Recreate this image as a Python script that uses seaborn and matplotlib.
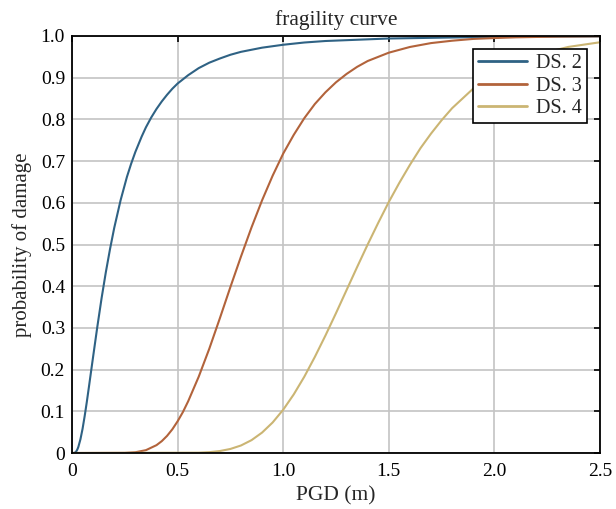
import matplotlib
matplotlib.use("Agg")
import matplotlib.pyplot as plt
import seaborn as sns
import pandas as pd

# ---- data ----
ds2_pgd = [0.0, 0.005, 0.01, 0.015, 0.02, 0.025, 0.03, 0.04, 0.05, 0.06, 0.07, 0.08, 0.09,
           0.10, 0.12, 0.14, 0.16, 0.18, 0.20, 0.23, 0.26, 0.28, 0.30, 0.33, 0.35, 0.375,
           0.40, 0.425, 0.45, 0.475, 0.50, 0.55, 0.60, 0.65, 0.70, 0.75, 0.80, 0.90, 1.0,
           1.1, 1.2, 1.5, 2.0, 2.5]
ds2_prob = [0.0, 0.0, 0.0002, 0.0013, 0.0037, 0.0081, 0.0144, 0.033, 0.058, 0.0885, 0.122,
            0.158, 0.1946, 0.231, 0.303, 0.371, 0.433, 0.489, 0.540, 0.606, 0.662, 0.6936,
            0.722, 0.759, 0.781, 0.8045, 0.825, 0.843, 0.859, 0.8735, 0.886, 0.906, 0.923,
            0.936, 0.946, 0.955, 0.962, 0.972, 0.979, 0.9844, 0.988, 0.994, 0.998, 0.999]

ds3_pgd = [0.0, 0.25, 0.30, 0.35, 0.40, 0.425, 0.45, 0.475, 0.50, 0.525, 0.55, 0.60, 0.65,
           0.70, 0.75, 0.80, 0.85, 0.90, 0.95, 1.00, 1.05, 1.10, 1.15, 1.20, 1.25, 1.30,
           1.35, 1.40, 1.50, 1.60, 1.70, 1.80, 1.90, 2.00, 2.10, 2.30, 2.50]
ds3_prob = [0.0, 0.0003, 0.0018, 0.0068, 0.0188, 0.0284, 0.041, 0.0568, 0.076, 0.0981,
            0.124, 0.183, 0.250, 0.323, 0.398, 0.471, 0.541, 0.606, 0.665, 0.718, 0.763,
            0.803, 0.837, 0.865, 0.889, 0.909, 0.926, 0.940, 0.960, 0.9737, 0.983, 0.9887,
            0.993, 0.9951, 0.9968, 0.9986, 0.9994]

ds4_pgd = [0.0, 0.60, 0.65, 0.70, 0.75, 0.80, 0.85, 0.90, 0.95, 1.00, 1.05, 1.10, 1.15,
           1.20, 1.25, 1.30, 1.35, 1.40, 1.45, 1.50, 1.55, 1.60, 1.65, 1.70, 1.75, 1.80,
           1.90, 2.00, 2.10, 2.20, 2.35, 2.50]
ds4_prob = [0.0, 0.0008, 0.002, 0.0047, 0.0097, 0.018, 0.0308, 0.049, 0.0732, 0.1038,
            0.1406, 0.183, 0.2306, 0.2817, 0.3354, 0.3907, 0.4459, 0.5, 0.552, 0.602, 0.648,
            0.691, 0.731, 0.766, 0.798, 0.827, 0.874, 0.909, 0.9355, 0.9548, 0.9738, 0.985]

series_names = ["DS. 2", "DS. 3", "DS. 4"]
x_ticks = [0, 0.5, 1.0, 1.5, 2.0, 2.5]
x_tick_labels = ["0", "0.5", "1.0", "1.5", "2.0", "2.5"]
y_ticks = [0, 0.1, 0.2, 0.3, 0.4, 0.5, 0.6, 0.7, 0.8, 0.9, 1.0]
y_tick_labels = ["0", "0.1", "0.2", "0.3", "0.4", "0.5", "0.6", "0.7", "0.8", "0.9", "1.0"]

frames = []
for name, xs, ys in zip(series_names, [ds2_pgd, ds3_pgd, ds4_pgd],
                        [ds2_prob, ds3_prob, ds4_prob]):
    frames.append(pd.DataFrame({"PGD": xs, "prob": ys, "state": name}))
df = pd.concat(frames, ignore_index=True)

sns.set_theme(style="white")
plt.rcParams["font.family"] = ["Liberation Serif", "DejaVu Serif"]

fig = plt.figure(figsize=(6.16, 5.09), dpi=100)
ax = fig.add_axes([72 / 616, 1 - 453 / 509, (600 - 72) / 616, (453 - 36) / 509])

palette = {"DS. 2": "#2f6284", "DS. 3": "#b2633b", "DS. 4": "#cbb573"}
sns.lineplot(data=df, x="PGD", y="prob", hue="state", palette=palette,
             estimator=None, sort=True, linewidth=1.5, ax=ax, legend=True)

ax.set_xlim(0, 2.5)
ax.set_ylim(0, 1.0)
ax.set_xticks(x_ticks)
ax.set_xticklabels(x_tick_labels)
ax.set_yticks(y_ticks)
ax.set_yticklabels(y_tick_labels)
ax.grid(True, color="#c4c4c4", linewidth=1.2)
ax.set_axisbelow(True)
for s in ax.spines.values():
    s.set_visible(True)
    s.set_color("black")
    s.set_linewidth(1.3)
ax.tick_params(direction="in", length=4, width=1.2, top=True, right=True,
               labelsize=14, colors="black")
ax.tick_params(axis="x", pad=7)
ax.tick_params(axis="y", pad=5)

ax.set_title("fragility curve", fontsize=15.5, pad=8)
ax.set_xlabel("PGD (m)", fontsize=15.5, labelpad=5)
ax.set_ylabel("probability of damage", fontsize=15, labelpad=6)

leg = ax.legend(loc="upper right", bbox_to_anchor=(0.975, 0.968), fontsize=14.5,
                frameon=True, fancybox=False, edgecolor="black", framealpha=1,
                borderpad=0.25, labelspacing=0.15, handlelength=2.4,
                handletextpad=0.45, borderaxespad=0)
leg.get_frame().set_linewidth(1.2)
leg.set_title(None)
for h in leg.get_lines():
    h.set_linewidth(2)

fig.savefig("out.png", dpi=100)
